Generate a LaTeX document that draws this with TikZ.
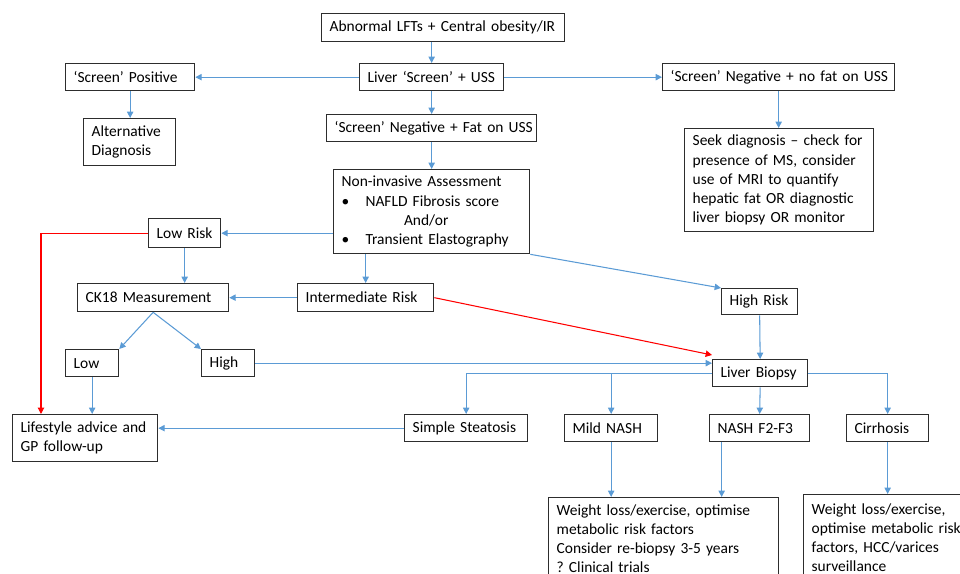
\documentclass[tikz,border=0pt]{standalone}
\usepackage{fontspec}
\setmainfont{Carlito}
\usetikzlibrary{arrows.meta}
\definecolor{linkblue}{RGB}{91,155,213}
\definecolor{boxline}{RGB}{45,45,45}
\tikzset{
  flowbox/.style 2 args={draw=boxline, line width=0.75pt, anchor=north west,
    inner xsep=0.16cm, inner ysep=0pt, align=left,
    minimum width=#1*0.02cm, text width=#1*0.02cm-0.32cm, minimum height=#2*0.02cm,
    font=\fontsize{8.8}{10.9}\selectfont,
    execute at begin node={\rightskip=0pt plus 1fil minus 0.3cm}},
  link/.style={draw=linkblue, line width=0.6pt, -{Triangle[length=3.6pt,width=3.6pt]}},
  redlink/.style={link, draw=red}
}
\begin{document}
\begin{tikzpicture}[x=0.02cm, y=-0.02cm]
  \useasboundingbox (0,0) rectangle (960,574);
  \clip (0,0) rectangle (960,574);
  \node[flowbox={243}{28}] (abn) at (321,13) {Abnormal LFTs + Central obesity/IR};
  \node[flowbox={144}{27}] (lscreen) at (359,63) {Liver ‘Screen’ + USS};
  \node[flowbox={129}{27}] (spos) at (65,63) {‘Screen’ Positive};
  \node[flowbox={232}{27}] (snegnofat) at (662,63) {‘Screen’ Negative + no fat on USS};
  \node[flowbox={92}{47}] (altdiag) at (83,118) {Alternative\\Diagnosis};
  \node[flowbox={210}{27}] (snegfat) at (326,114) {‘Screen’ Negative + Fat on USS};
  \node[flowbox={189}{103}] (seek) at (684,128) {Seek diagnosis – check for\\presence of MS, consider\\use of MRI to quantify\\hepatic fat OR diagnostic\\liver biopsy OR monitor};
  \node[flowbox={196}{84}] (nia) at (333,169) {Non-invasive Assessment\\
    \makebox[13.6pt][l]{\textbullet}NAFLD Fibrosis score\\
    \hspace*{35.5pt}And/or\\
    \makebox[13.6pt][l]{\textbullet}Transient Elastography};
  \node[flowbox={72}{29}] (lowrisk) at (148,218) {Low Risk};
  \node[flowbox={151}{28}] (ck18) at (77,283) {CK18 Measurement};
  \node[flowbox={136}{28}] (intrisk) at (297,283) {Intermediate Risk};
  \node[flowbox={76}{26}] (highrisk) at (721,288) {High Risk};
  \node[flowbox={53}{27}] (low) at (65,349) {Low};
  \node[flowbox={53}{27}] (high) at (201,349) {High};
  \node[flowbox={95}{27}] (lbiopsy) at (712,359) {Liver Biopsy};
  \node[flowbox={145}{47}] (lifestyle) at (12,414) {Lifestyle advice and\\GP follow-up};
  \node[flowbox={123}{27}] (steatosis) at (404,414) {Simple Steatosis};
  \node[flowbox={93}{27}] (mildnash) at (564,414) {Mild NASH};
  \node[flowbox={100}{27}] (nashf) at (709,414) {NASH F2-F3};
  \node[flowbox={82}{27}] (cirrhosis) at (846,414) {Cirrhosis};
  \node[flowbox={230}{82}] (wl1) at (548,497) {Weight loss/exercise, optimise\\metabolic risk factors\\Consider re-biopsy 3-5 years\\?\ Clinical trials};
  \node[flowbox={172}{86}] (wl2) at (803,494) {Weight loss/exercise,\\optimise metabolic risk\\factors, HCC/varices\\surveillance};

  \draw[link] (abn.south -| lscreen.north) -- (lscreen.north);
  \draw[link] (lscreen.west) -- (spos.east);
  \draw[link] (lscreen.east) -- (snegnofat.west);
  \draw[link] (lscreen.south) -- (snegfat.north);
  \draw[link] (spos.south) -- (spos.south |- altdiag.north);
  \draw[link] (snegnofat.south) -- (snegnofat.south |- seek.north);
  \draw[link] (snegfat.south) -- (nia.north);
  \draw[link] (nia.west |- lowrisk.east) -- (lowrisk.east);
  \draw[link] (nia.south -| intrisk.north) -- (intrisk.north);
  \draw[link] (nia.south east) -- (highrisk.north west);
  \draw[link] (lowrisk.south) -- (lowrisk.south |- ck18.north);
  \draw[link] (intrisk.west) -- (ck18.east);
  \draw[redlink] (intrisk.east) -- ([yshift=0.08cm]lbiopsy.north west);
  \draw[link] (ck18.south) -- (low.north east);
  \draw[link] (ck18.south) -- (high.north west);
  \draw[link] (low.south) -- (low.south |- lifestyle.north);
  \draw[redlink] (lowrisk.west) -| ([xshift=0.58cm]lifestyle.north west);
  \draw[link] (high.east) -- (high.east -| lbiopsy.west);
  \draw[link] (highrisk.south) -- (lbiopsy.north);
  \draw[link] (lbiopsy.west) -| (steatosis.north);
  \draw[link] (lbiopsy.west) -| (mildnash.north);
  \draw[link] (lbiopsy.south) -- (nashf.north);
  \draw[link] (lbiopsy.east) -| (cirrhosis.north);
  \draw[link] (steatosis.west) -- (steatosis.west -| lifestyle.east);
  \draw[link] (mildnash.south) -- (mildnash.south |- wl1.north);
  \draw[link] ([xshift=-0.76cm]nashf.south) -- ([xshift=-0.76cm]nashf.south |- wl1.north);
  \draw[link] (cirrhosis.south) -- (cirrhosis.south |- wl2.north);
\end{tikzpicture}
\end{document}
